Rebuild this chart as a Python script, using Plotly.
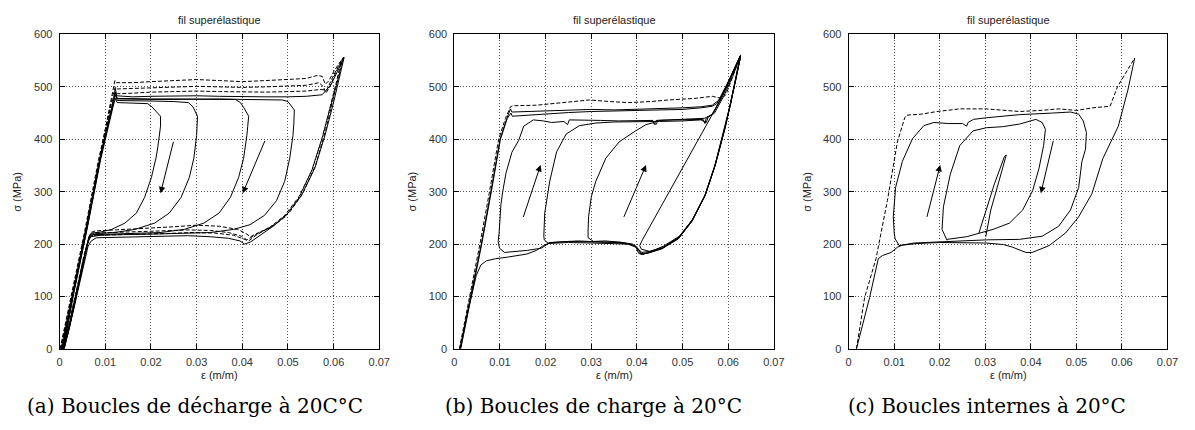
import plotly.graph_objects as go

# ---------------- data (strain, stress MPa) ----------------
# Panel (a): unloading loops
A_DASH_1 = [(0.0002,0),(0.003,115),(0.006,240),(0.009,375),(0.0112,470),(0.0121,512),(0.0124,508),(0.016,508),(0.020,510),(0.025,512),(0.030,514),(0.035,512),(0.040,510),(0.045,512),(0.050,514),(0.054,516),(0.0565,522),(0.0575,520),(0.0582,505),(0.059,512),(0.0602,532),(0.0622,557),
            (0.0615,532),(0.0605,500),(0.0591,455),(0.0574,400),(0.0552,340),(0.0524,288),(0.0494,252),(0.0464,232),(0.0436,222),(0.0418,214),(0.0408,220),(0.039,228),(0.035,234),(0.030,236),(0.025,233),(0.020,231),(0.015,229),(0.011,227),(0.0078,225),(0.0068,222),(0.0055,185),(0.004,125),(0.0025,65),(0.001,8),(0.0008,0)]
A_DASH_2 = [(0.0004,0),(0.003,110),(0.006,232),(0.009,368),(0.0115,478),(0.0122,500),(0.0126,496),(0.016,497),(0.020,498),(0.025,500),(0.030,501),(0.035,500),(0.040,499),(0.045,500),(0.050,501),(0.054,503),(0.0568,508),(0.0578,500),(0.0583,488),(0.0592,500),(0.0605,528),(0.0620,554),
            (0.0611,520),(0.0598,472),(0.0582,415),(0.0561,352),(0.0533,297),(0.0503,260),(0.0472,238),(0.0442,224),(0.0422,214),(0.0410,208),(0.0398,215),(0.037,222),(0.033,226),(0.028,227),(0.022,225),(0.016,224),(0.011,222),(0.0078,221),(0.0066,218),(0.0052,170),(0.0038,112),(0.0022,50),(0.0006,0)]
A_DASH_3 = [(0.0001,0),(0.0025,100),(0.0055,225),(0.0085,360),(0.0112,465),(0.0123,490),(0.0127,487),(0.016,488),(0.020,490),(0.025,491),(0.030,492),(0.035,491),(0.040,490),(0.045,490),(0.050,491),(0.054,492),(0.057,495),(0.0585,494),(0.0600,522),(0.0617,550),
            (0.0607,512),(0.0593,463),(0.0576,405),(0.0553,342),(0.0524,290),(0.0492,254),(0.0461,232),(0.0432,218),(0.0414,206),(0.0402,210),(0.038,217),(0.034,221),(0.029,222),(0.023,220),(0.017,219),(0.012,218),(0.008,217),(0.0068,214),(0.0062,205),(0.0048,150),(0.0033,90),(0.0018,32),(0.0004,0)]
A_SOLID_FULL = [(0.0006,0),(0.003,105),(0.006,232),(0.009,368),(0.0117,470),(0.0122,497),(0.0125,483),(0.016,481),(0.020,482),(0.025,483),(0.030,483),(0.035,482),(0.040,481),(0.045,481),(0.050,481),(0.054,482),(0.0575,485),(0.0595,505),(0.0623,556),
                (0.0613,518),(0.0599,467),(0.0581,407),(0.0559,345),(0.0529,292),(0.0497,256),(0.0466,233),(0.0436,214),(0.0418,204),(0.0405,200),(0.0395,206),(0.037,211),(0.033,214),(0.028,216),(0.022,215),(0.016,214),(0.011,213),(0.008,212),(0.0068,205),(0.0062,195),(0.0049,145),(0.0035,90),(0.002,35),(0.001,0)]
A_LOOP_2 = [(0.0008,0),(0.003,102),(0.006,228),(0.009,362),(0.0117,462),(0.0122,478),(0.0126,470),(0.015,469),(0.018,469),(0.0193,468),(0.0202,462),(0.0212,452),(0.0221,444),(0.0221,425),(0.0219,407),(0.0215,385),(0.0211,364),(0.0201,327),(0.0186,289),(0.0168,259),(0.0143,240),(0.0114,228),(0.009,223),(0.007,221),(0.0064,214),(0.0052,165),(0.0038,108),(0.0022,45),(0.0009,0)]
A_LOOP_3 = [(0.0005,0),(0.003,108),(0.006,236),(0.009,370),(0.0117,468),(0.0122,485),(0.0126,474),(0.016,473),(0.020,473),(0.025,472),(0.0282,470),(0.0292,462),(0.0298,452),(0.0302,444),(0.0301,425),(0.0300,407),(0.0294,364),(0.0284,327),(0.0266,289),(0.0240,259),(0.0208,240),(0.0165,228),(0.012,222),(0.008,220),(0.0066,216),(0.0054,175),(0.004,115),(0.0024,52),(0.0010,0)]
A_LOOP_4 = [(0.0003,0),(0.003,110),(0.006,238),(0.009,372),(0.0117,472),(0.0122,490),(0.0126,478),(0.016,477),(0.020,477),(0.025,477),(0.030,476),(0.035,476),(0.0385,476),(0.0396,470),(0.0405,458),(0.0414,444),(0.0412,425),(0.0410,407),(0.0403,364),(0.0392,327),(0.0374,289),(0.0349,259),(0.0316,240),(0.0273,228),(0.022,222),(0.016,220),(0.011,219),(0.0075,218),(0.0064,212),(0.0051,160),(0.0037,102),(0.0021,40),(0.0007,0)]
A_LOOP_5 = [(0.0007,0),(0.003,104),(0.006,230),(0.009,366),(0.0117,468),(0.0122,488),(0.0126,477),(0.016,476),(0.020,476),(0.025,476),(0.030,477),(0.035,477),(0.040,476),(0.045,476),(0.0488,475),(0.0500,472),(0.0507,464),(0.0514,456),(0.0513,430),(0.0511,407),(0.0504,364),(0.0493,320),(0.0475,283),(0.0449,255),(0.0417,237),(0.0381,228),(0.033,222),(0.027,220),(0.020,219),(0.014,218),(0.009,217),(0.0068,214),(0.006,200),(0.0047,145),(0.0033,85),(0.0018,28),(0.0006,0)]
A_ARROWS = [((0.0250,398),(0.0221,297)), ((0.0451,400),(0.0401,297))]

# Panel (b): loading loops
B_DASH = [(0.0011,0),(0.0034,100),(0.0056,200),(0.0077,300),(0.0097,400),(0.0112,440),(0.0123,462),(0.0128,464),(0.018,465),(0.0238,470),(0.0296,475),(0.034,472),(0.0382,470),(0.043,472),(0.0469,475),(0.0527,478),(0.0565,482),(0.0585,478),(0.0595,485),(0.061,520),(0.0628,562)]
B_SOLID_A = [(0.0014,0),(0.0037,100),(0.006,200),(0.0081,300),(0.0101,400),(0.0116,440),(0.0124,450),(0.0127,444),(0.016,446),(0.020,449),(0.025,451),(0.030,453),(0.035,454),(0.040,455),(0.045,456),(0.050,457),(0.054,460),(0.0565,463),(0.0575,468),(0.0595,500),(0.0627,560),
             (0.0617,515),(0.0605,466),(0.0592,419),(0.0571,350),(0.0549,292),(0.0521,244),(0.0492,212),(0.0456,192),(0.0428,184),(0.0410,180),(0.0403,188),(0.0398,196),(0.037,203),(0.033,204),(0.030,204),(0.025,205),(0.021,203),(0.019,192),(0.016,188),(0.013,186),(0.011,184),(0.0099,192),(0.0096,205),
             (0.0098,221),(0.0100,250),(0.0102,275),(0.0106,300),(0.0113,335),(0.0126,375),(0.0141,398),(0.0152,425),(0.0173,437),(0.0195,435),(0.0213,432),(0.024,434),(0.0248,428),(0.0252,437),(0.028,436),(0.032,436),(0.036,435),(0.040,435),(0.0435,436),(0.0438,428),(0.0442,436),(0.048,437),(0.052,437),(0.0545,438),(0.0549,430),(0.0552,441),(0.0565,448),(0.0585,478),(0.0605,515),(0.0626,558)]
B_SOLID_B = [(0.0012,0),(0.0036,100),(0.0059,200),(0.008,300),(0.0100,400),(0.0115,440),(0.0123,458),(0.0126,452),(0.016,453),(0.020,455),(0.025,456),(0.030,457),(0.035,456),(0.040,457),(0.045,458),(0.050,460),(0.054,462),(0.0565,465),(0.058,475),(0.060,510),(0.0626,559),
             (0.0616,512),(0.0604,463),(0.0591,417),(0.0570,347),(0.0548,290),(0.0520,243),(0.0491,210),(0.0455,191),(0.0426,183),(0.0409,182),(0.0402,192),(0.039,199),(0.035,203),(0.031,205),(0.027,206),(0.023,204),(0.0205,202),(0.0197,208),
             (0.0196,215),(0.0198,259),(0.0203,290),(0.0209,320),(0.0224,376),(0.0245,410),(0.0274,426),(0.031,431),(0.035,433),(0.040,433),(0.045,434),(0.050,435),(0.054,437),(0.0552,432),(0.0556,442),(0.057,450),(0.059,482),(0.061,520),(0.0627,561)]
B_SOLID_C = [(0.0013,0),(0.0032,80),(0.0048,140),(0.0058,160),(0.007,168),(0.009,172),(0.0116,175),(0.0159,181),(0.018,188),(0.0195,197),(0.0205,201),(0.025,203),(0.030,202),(0.035,201),(0.038,200),(0.0398,194),(0.0404,182),(0.0412,180),(0.0428,185),(0.0458,196),(0.0493,215),(0.0522,247),(0.0550,295),(0.0572,352),(0.0594,424),(0.0608,480),(0.0627,557),
             (0.0618,520),(0.0606,470),(0.0593,422),(0.0572,352),(0.0550,294),(0.0522,246),(0.0493,213),(0.0457,193),(0.0428,186),(0.0411,184),(0.0404,190),(0.039,200),(0.036,204),(0.033,206),(0.0305,205),(0.0293,212),
             (0.0293,225),(0.0294,252),(0.0300,290),(0.0310,320),(0.0332,364),(0.0361,395),(0.0397,416),(0.0420,428),(0.0437,432),(0.0442,428),(0.0446,436),(0.048,437),(0.052,438),(0.0548,440),(0.0565,447),(0.0585,478),(0.0605,517),(0.0627,559),
             (0.0617,515),(0.0605,468),(0.0591,420),(0.0571,350),(0.0549,293),(0.0521,246),(0.0492,213),(0.0456,193),(0.0428,186),(0.0410,190),(0.0406,197),(0.0412,208),(0.0563,444),(0.058,472),(0.060,508),(0.0626,558)]
B_ARROWS = [((0.0150,249),(0.0189,351)), ((0.0370,249),(0.0420,351))]

# Panel (c): internal loops
C_DASH = [(0.0017,0),(0.0035,98),(0.006,172),(0.0085,283),(0.0107,395),(0.0123,441),(0.0127,446),(0.016,448),(0.0194,453),(0.0244,458),(0.0302,458),(0.035,455),(0.0375,453),(0.042,455),(0.0461,458),(0.0501,455),(0.0535,460),(0.0574,463),(0.059,500),(0.0628,555)]
C_SOLID = [(0.0017,0),(0.0046,98),(0.0065,172),(0.0074,178),(0.0093,184),(0.0107,194),(0.0118,198),(0.015,201),(0.020,203),(0.025,203),(0.0302,202),(0.034,199),(0.036,194),(0.0389,184),(0.0403,184),(0.044,197),(0.0476,221),(0.0505,252),(0.0534,296),(0.0558,363),(0.0592,425),(0.0613,494),(0.0628,555)]
C_BIG_LOOP = [(0.0111,197),(0.0102,210),(0.0100,221),(0.0098,252),(0.0103,308),(0.0118,358),(0.0140,401),(0.0165,426),(0.0187,432),(0.022,430),(0.025,430),(0.0259,425),(0.0262,432),(0.0274,438),(0.0302,441),(0.0375,447),(0.0447,450),(0.0487,452),(0.0505,448),(0.0515,435),(0.0522,413),(0.0520,381),(0.0512,357),(0.0505,308),(0.0487,265),(0.0461,234),(0.0425,215),(0.0375,209),(0.0302,208),(0.0216,205),(0.0143,202),(0.0111,197)]
C_MID_LOOP = [(0.0216,207),(0.0205,228),(0.0208,271),(0.0223,333),(0.0244,388),(0.0273,416),(0.0302,422),(0.0338,424),(0.0375,429),(0.0411,438),(0.0425,432),(0.0432,419),(0.0428,388),(0.0418,345),(0.0404,302),(0.0382,265),(0.0353,240),(0.0317,228),(0.0288,221),(0.0259,214),(0.0216,209)]
C_SMALL_LOOP = [(0.0286,221),(0.0300,260),(0.0320,315),(0.0342,367),(0.0346,370),(0.0330,320),(0.0312,265),(0.0301,214)]
C_ARROWS = [((0.0171,249),(0.0201,351)), ((0.0450,400),(0.0422,297))]

TITLE = "fil superélastique"
XLABEL = "ε (m/m)"
YLABEL = "σ (MPa)"
CAPTIONS = ["(a) Boucles de décharge à 20C°C", "(b) Boucles de charge à 20°C", "(c) Boucles internes à 20°C"]
X_TICKS = [0, 0.01, 0.02, 0.03, 0.04, 0.05, 0.06, 0.07]
Y_TICKS = [0, 100, 200, 300, 400, 500, 600]

# ---------------- layout geometry (pixels) ----------------
W, H = 1195, 430
PLOT_X = [(57.3, 380.7), (456.7, 780.0), (855.7, 1178.3)]
PLOT_TOP, PLOT_BOT = 29.3, 352.7
CAPTION_X = [194, 597, 996]

panels = [
    [(A_DASH_1, True), (A_DASH_2, True), (A_DASH_3, True), (A_SOLID_FULL, False),
     (A_LOOP_2, False), (A_LOOP_3, False), (A_LOOP_4, False), (A_LOOP_5, False)],
    [(B_DASH, True), (B_SOLID_A, False), (B_SOLID_B, False), (B_SOLID_C, False)],
    [(C_DASH, True), (C_SOLID, False), (C_BIG_LOOP, False), (C_MID_LOOP, False), (C_SMALL_LOOP, False)],
]
arrows = [A_ARROWS, B_ARROWS, C_ARROWS]

fig = go.Figure()
for i, curves in enumerate(panels):
    xa = "x" if i == 0 else f"x{i+1}"
    ya = "y" if i == 0 else f"y{i+1}"
    for pts, dashed in curves:
        fig.add_trace(go.Scatter(
            x=[p[0] for p in pts], y=[p[1] for p in pts], mode="lines",
            line=dict(color="black", width=1, dash="4px,2px" if dashed else "solid"),
            xaxis=xa, yaxis=ya, hoverinfo="skip", showlegend=False))

SANS = "Liberation Sans, Arial, sans-serif"
axis_common = dict(
    showgrid=True, gridcolor="#555", griddash="1px,2px", gridwidth=1,
    showline=True, linecolor="black", linewidth=1, mirror="allticks",
    ticks="inside", ticklen=5, tickcolor="black", tickwidth=1,
    zeroline=False, tickfont=dict(family=SANS, size=11, color="#333"),
)
ytop = 1 - PLOT_TOP / H
ybot = 1 - PLOT_BOT / H
layout = dict(width=W, height=H, margin=dict(l=0, r=0, t=0, b=0),
              paper_bgcolor="white", plot_bgcolor="white", showlegend=False)
annotations = []


def txt(text, px, py, font, angle=0):
    return dict(text=text, x=px / W, y=1 - py / H, xref="paper", yref="paper",
                xanchor="center", yanchor="middle", textangle=angle,
                showarrow=False, font=font)


for i, (x0, x1) in enumerate(PLOT_X):
    sfx = "" if i == 0 else str(i + 1)
    layout["xaxis" + sfx] = dict(axis_common, domain=[x0 / W, x1 / W], range=[0, 0.07],
                                 tickvals=X_TICKS, ticktext=[f"{v:g}" for v in X_TICKS],
                                 anchor="y" + sfx, ticklabelstandoff=3)
    layout["yaxis" + sfx] = dict(axis_common, domain=[ybot, ytop], range=[0, 600],
                                 tickvals=Y_TICKS, anchor="x" + sfx, ticklabelstandoff=4)
    cx = (x0 + x1) / 2
    f11 = dict(family=SANS, size=11, color="#222")
    annotations.append(txt(TITLE, cx, 14, f11))
    annotations.append(txt(XLABEL, cx, 380, f11))
    annotations.append(txt(YLABEL, x0 - 43, (PLOT_TOP + PLOT_BOT) / 2, f11, -90))
    annotations.append(txt(CAPTIONS[i], CAPTION_X[i], 411,
                           dict(family="DejaVu Serif, serif", size=20, color="black")))
    for (tail, head) in arrows[i]:
        annotations.append(dict(x=head[0], y=head[1], ax=tail[0], ay=tail[1],
                                xref="x" + sfx, yref="y" + sfx, axref="x" + sfx, ayref="y" + sfx,
                                showarrow=True, arrowhead=2, arrowsize=1.3, arrowwidth=1,
                                arrowcolor="black", text=""))
layout["annotations"] = annotations
fig.update_layout(**layout)
fig.write_html("out.html", config={"displayModeBar": False},
               post_script="document.body.style.margin='0px';document.documentElement.style.overflow='hidden';")
